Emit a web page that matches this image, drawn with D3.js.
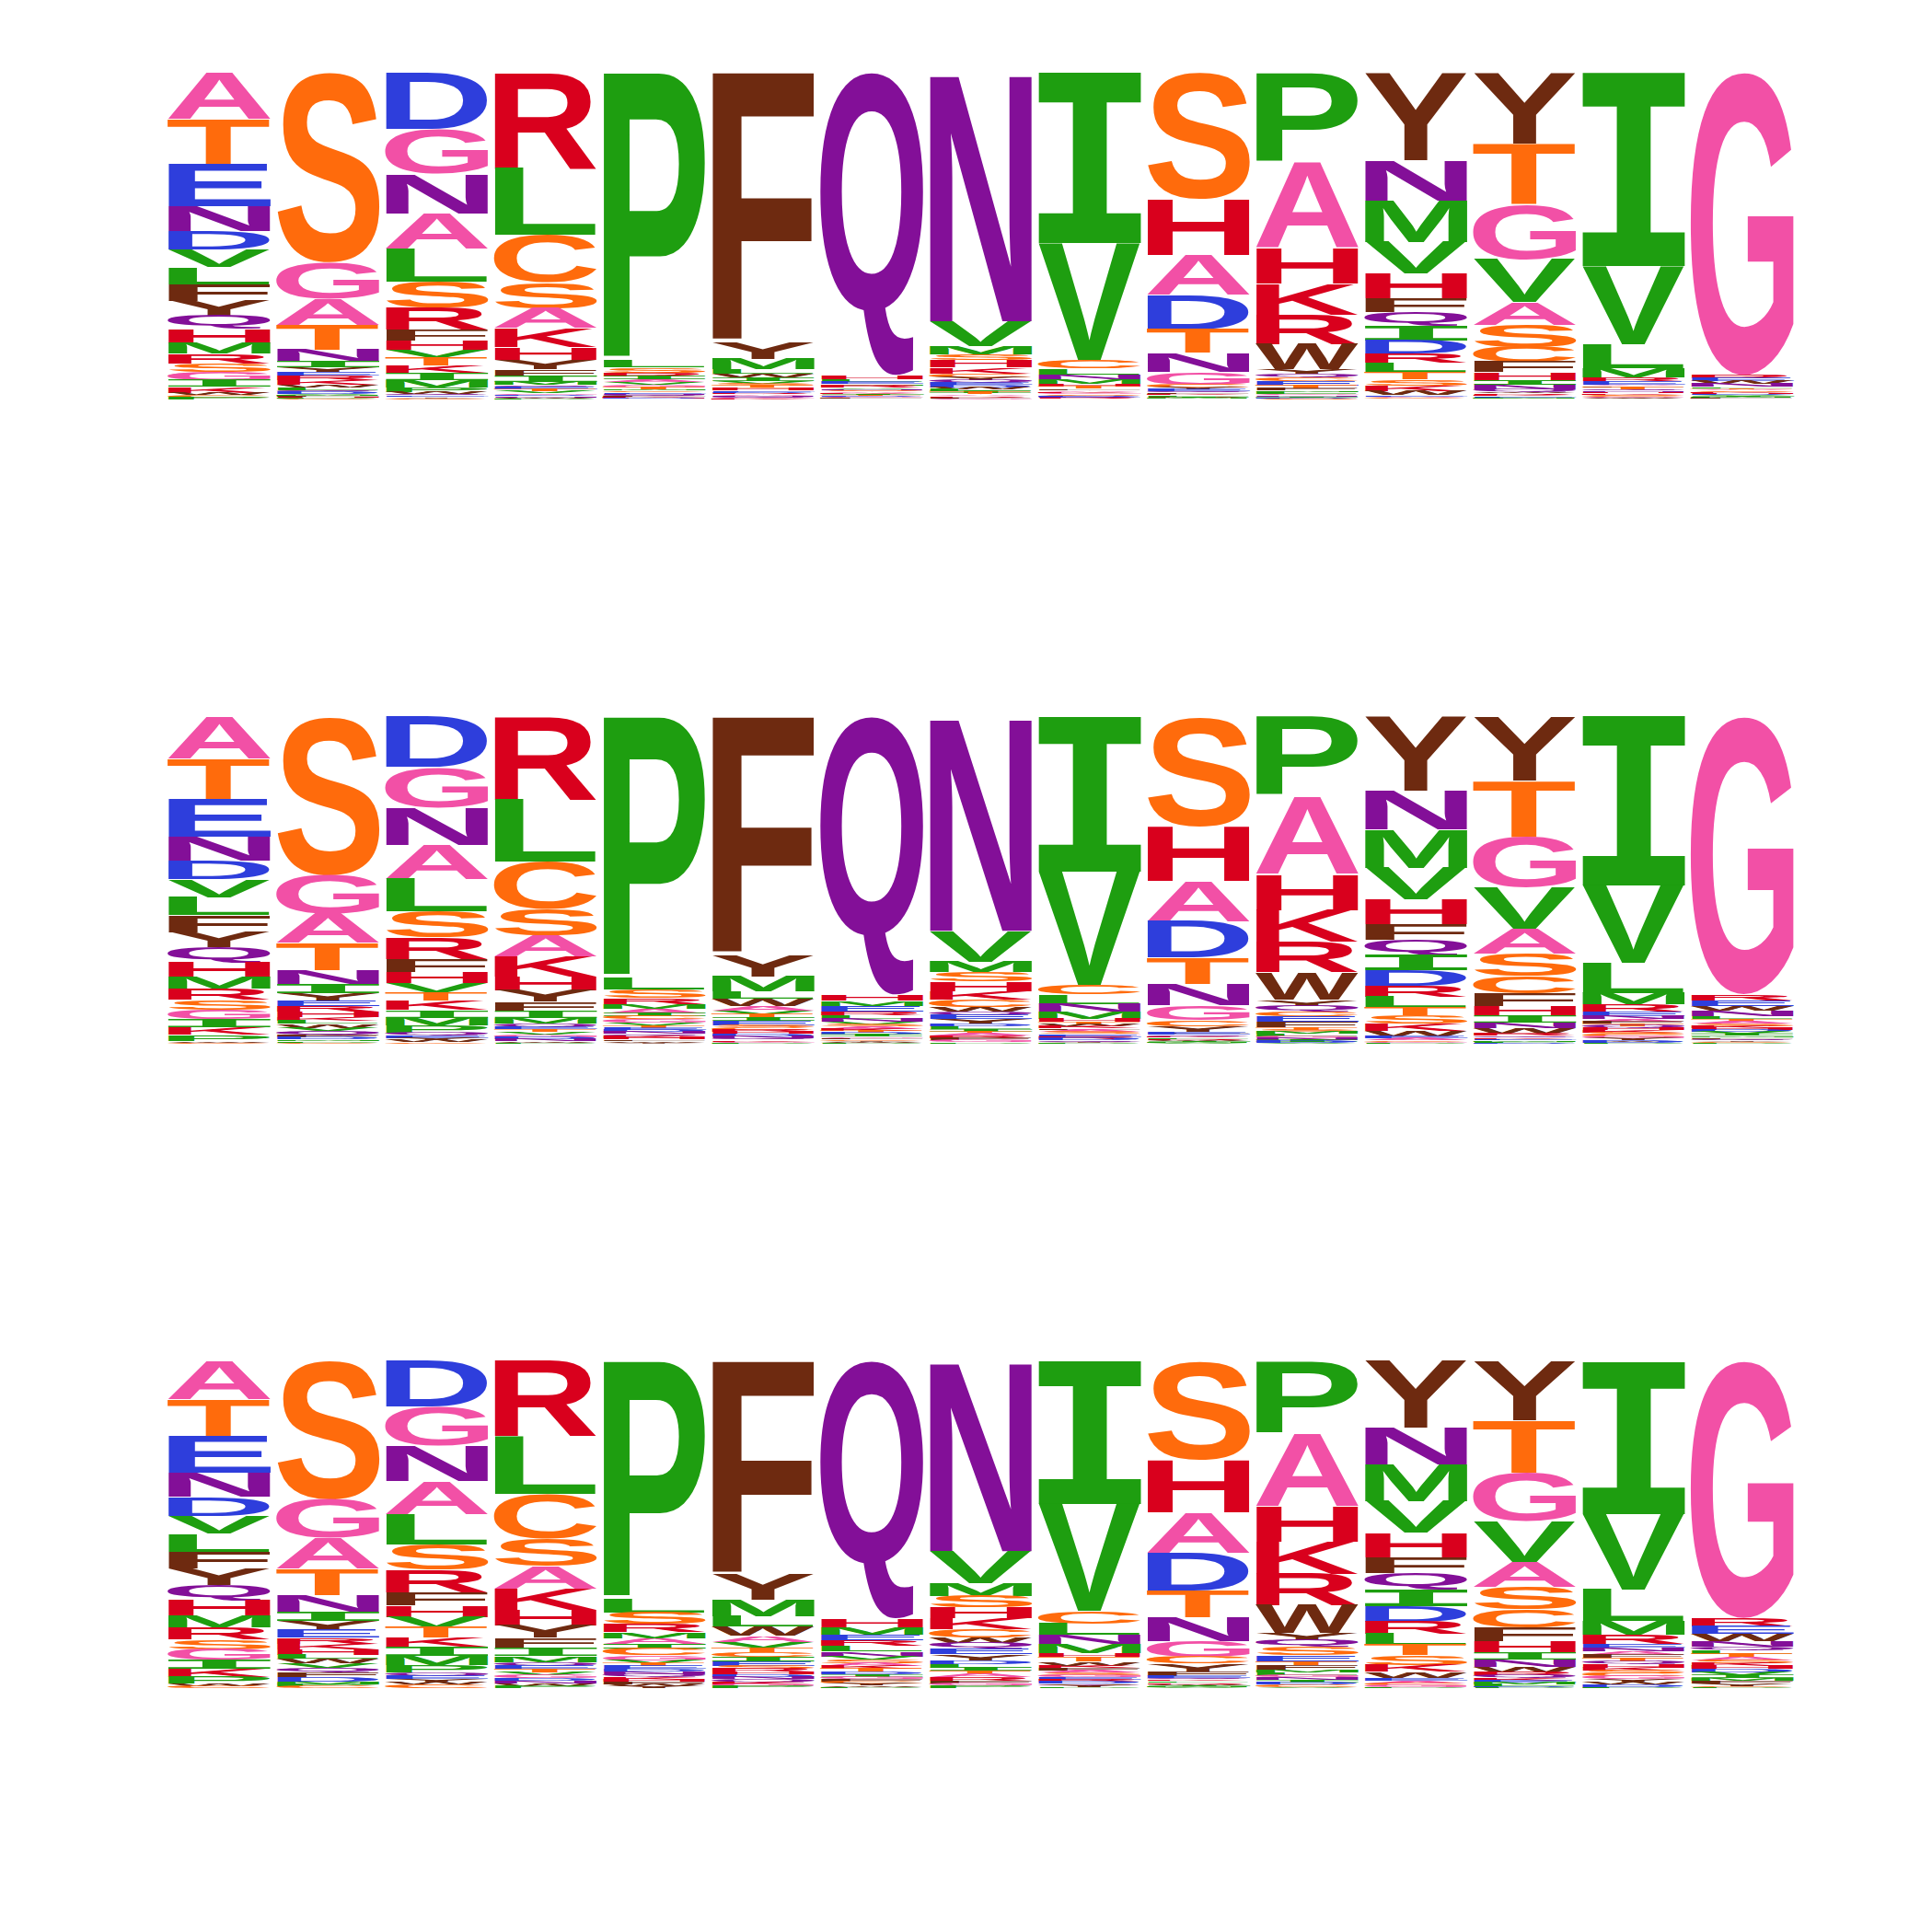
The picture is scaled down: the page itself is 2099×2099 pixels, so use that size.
<!DOCTYPE html>
<html><head><meta charset="utf-8">
<script src="https://cdn.jsdelivr.net/npm/d3@7"></script>
<style>body{margin:0;background:#fff}</style>
</head><body><svg id="chart" width="2099" height="2099"></svg>
<script>
const positions = d3.range(1, 16);

// Each column: letters from top to bottom, with probability (%) of each.
const panel1Letters = ["ATENDVLFYQHMRSGIKWCP","SGATNIYERKWLQDVMFHPC","DGNALSRFHVTKIMPWQEYC","RLCSAKHYFIMQETVGDNWP","PLSRIAVGTMCENQFKHDWY","FYMLWIVSTCHEDRANQGKP","QHLEMRVNSAKITDGFCYWP","NVMSHKCYQEDWLITARFGP","IVCLNMHTFAKGSDEQRWYP","SHADTNGCYEQFKLRIMVWP","PAHKRWYQCETFMLGNIDSV","YNMVHFQIDRLTSKWEACGP","YTGVASCFHINQWRKEMLDP","IVLMREAFTQNHKSCGYWDP","GREWNLTASKHDVIMFQCYP"];
const panel1Values = [
 [14.2,13.9,12.8,7.6,5.6,5.4,5.2,5.1,4.5,4.2,4.2,3.2,3.0,2.6,2.5,2.1,1.9,0.7,0.7,0.6],
 [57.7,11.1,8.0,7.5,3.5,1.9,1.4,1.1,1.4,1.4,0.8,0.8,0.6,0.5,0.4,0.3,0.3,0.3,0.3,0.2],
 [17.2,13.6,12.2,10.8,10.1,8.0,6.8,3.3,2.8,2.3,2.5,2.3,2.1,2.3,1.5,0.5,0.5,0.4,0.4,0.4],
 [29.4,20.5,14.7,8.0,6.1,5.9,3.8,3.0,1.9,1.9,1.1,0.6,0.6,0.6,0.6,0.5,0.4,0.5,0.3,0.3],
 [88.5,2.3,1.6,1.2,1.0,0.8,0.8,0.7,0.6,0.5,0.5,0.4,0.4,0.3,0.3,0.2,0.2,0.2,0.1,0.1],
 [82.9,5.2,3.1,1.4,1.2,1.0,0.8,0.6,0.5,0.5,0.5,0.4,0.4,0.4,0.4,0.4,0.3,0.2,0.2,0.1],
 [93.0,1.0,0.8,0.7,0.5,0.5,0.5,0.4,0.4,0.4,0.3,0.3,0.3,0.3,0.2,0.2,0.1,0.1,0.1,0.1],
 [76.3,7.7,2.4,1.9,2.1,1.9,1.1,0.9,0.8,0.8,0.6,0.6,0.6,0.5,0.5,0.5,0.4,0.4,0.2,0.1],
 [52.7,36.1,2.4,1.9,1.6,1.4,0.8,0.6,0.5,0.5,0.4,0.4,0.4,0.3,0.2,0.2,0.2,0.1,0.1,0.1],
 [39.0,17.2,12.4,10.6,7.3,6.0,3.8,0.9,0.7,0.5,0.4,0.4,0.4,0.4,0.2,0.2,0.2,0.1,0.1,0.1],
 [27.3,26.5,11.1,9.4,9.1,7.8,1.3,1.1,1.1,1.5,0.9,0.6,0.5,0.5,0.4,0.4,0.4,0.2,0.2,0.1],
 [26.8,12.3,12.7,9.6,7.7,4.3,4.4,4.2,4.2,2.8,2.8,2.2,1.9,1.7,1.3,0.4,0.4,0.3,0.1,0.1],
 [21.7,18.8,16.8,13.2,6.9,6.9,4.7,3.1,2.3,1.5,1.3,0.7,0.5,0.5,0.4,0.4,0.3,0.2,0.1,0.1],
 [59.2,23.9,7.3,3.0,1.2,0.9,0.5,0.5,0.5,0.4,0.4,0.4,0.4,0.3,0.3,0.3,0.2,0.2,0.1,0.1],
 [92.8,0.9,0.9,0.9,0.9,0.4,0.4,0.4,0.4,0.3,0.3,0.3,0.3,0.3,0.2,0.2,0.1,0.1,0.1,0.1]
];

const panel2Letters = ["ATENDVLFYQHMRSGIKPWC","SGATNIYERHKLWVQFDMPC","DGNALSRFHVTKIMPQEYWC","RLCSAKHYFIMQETVGDNWP","PLSRMAICGVTEDNQKHFWY","FYMLWAVTIESCRHDNQKGP","QHMERLNVSAKTDIGFCYWP","NVMSHKCWQEYDLITARFGP","IVCLNMHTWKFASGERDQYP","SHADTNGCYFEQKLRWIMVP","PAHKRWYQCEFTSMLGNIDV","YNMVHFQIDRLTSKWEACGP","YTGVASCFHINWRQKEMLDP","IVLMRENAFTQHKSCGYWDP","GREWNLTASKHDVIMFQYCP"];
const panel2Values = [
 [12.8,12.4,11.5,7.4,5.7,5.4,5.6,5.2,4.7,4.5,4.6,3.6,3.3,3.0,2.8,2.6,2.3,1.9,0.5,0.4],
 [48.2,11.7,8.9,8.3,4.2,2.7,2.2,1.9,1.6,1.7,1.1,0.9,1.2,1.1,1.2,0.6,0.6,0.5,0.5,0.4],
 [15.3,12.4,11.4,10.5,9.9,8.0,6.6,3.8,3.3,3.0,2.6,2.8,2.3,2.5,2.2,0.8,0.8,0.6,0.6,0.5],
 [25.4,19.0,14.6,8.0,6.4,6.3,4.2,3.6,3.0,2.1,1.7,0.9,0.8,0.8,0.8,0.7,0.6,0.6,0.5,0.4],
 [79.6,3.5,2.6,1.9,1.4,1.4,0.9,0.9,1.1,0.8,0.8,0.7,0.6,0.6,0.6,0.6,0.5,0.5,0.4,0.4],
 [73.1,6.6,4.7,2.3,2.3,1.4,1.1,0.9,0.9,1.4,0.8,0.7,0.7,0.6,0.6,0.6,0.6,0.5,0.4,0.3],
 [85.7,1.7,1.6,1.7,1.1,1.1,1.0,0.7,0.7,0.7,0.6,0.6,0.6,0.5,0.5,0.5,0.4,0.4,0.3,0.2],
 [65.5,9.4,3.1,3.0,3.0,2.6,2.3,1.4,0.9,1.4,1.4,0.8,0.8,0.7,0.7,0.7,0.7,0.6,0.6,0.5],
 [47.2,34.7,2.8,3.0,2.4,2.1,1.0,0.8,0.6,0.6,0.5,0.6,0.6,0.5,0.5,0.5,0.5,0.4,0.3,0.3],
 [33.6,16.9,12.4,11.1,8.2,6.6,4.5,1.9,1.7,0.5,0.5,0.4,0.4,0.4,0.4,0.3,0.3,0.2,0.2,0.1],
 [24.2,23.9,11.1,9.8,9.4,8.3,1.9,1.7,1.6,1.6,1.7,0.8,0.7,0.6,0.6,0.6,0.6,0.5,0.5,0.2],
 [22.6,11.9,11.7,9.6,7.8,4.7,4.7,4.7,4.7,3.3,3.3,2.5,2.6,2.1,1.7,0.6,0.6,0.5,0.4,0.2],
 [19.5,17.2,15.7,12.7,7.7,6.9,5.2,3.9,2.8,2.2,1.9,1.6,0.6,0.6,0.5,0.4,0.4,0.3,0.2,0.1],
 [51.7,23.7,9.2,3.5,2.2,1.3,0.9,0.8,0.7,0.7,0.7,0.7,0.6,0.6,0.6,0.6,0.5,0.5,0.5,0.2],
 [85.3,1.9,1.9,1.4,1.7,0.8,0.7,0.7,0.7,0.6,0.6,0.6,0.6,0.6,0.5,0.5,0.5,0.5,0.3,0.2]
];

const panel3Letters = ["ATENDVLFYQHMRSGIKPWC","SGATNIYERKHLWVQFDMPC","DGNALSRFHVTKIMPQEYWC","RLCSAKHYFIMQETVGDNWP","PLSRMAICGVTEDNQKHFWY","FYMLWAVTCIESRHDNQKGP","QHMERLNVSAKTDIGFCYWP","NVMSHKCWQEYDLITARFGP","IVCLNMHTWKFASGERDQYP","SHADTNGCYFEQKLRWIMVP","PAHKRWYQSETFMLGNIDCV","YNMVHFQIDRLTSKWEACGP","YTGVASCFHINWRQKEMLDP","IVLMRENAFTQHKSCGYWDP","GREWNQLTASKHDVIMFYCP"];
const panel3Values = [
 [11.7,11.5,11.0,7.3,5.9,5.5,5.4,5.2,5.2,4.5,4.7,3.8,3.5,3.1,3.2,2.8,2.4,2.1,0.7,0.7],
 [42.3,11.7,9.6,8.2,5.0,2.8,2.8,2.3,1.9,1.7,1.6,1.4,1.4,1.4,1.4,1.4,1.4,0.7,0.6,0.6],
 [13.9,11.9,10.9,10.0,9.4,7.8,7.0,4.0,3.4,3.1,3.1,3.0,2.8,2.8,2.3,1.0,1.0,0.8,0.8,1.1],
 [23.0,17.8,13.7,8.5,6.8,6.6,4.7,3.8,3.0,2.6,1.9,1.1,1.0,1.0,1.0,0.9,0.8,0.8,0.7,0.7],
 [72.1,4.2,3.6,2.3,1.9,1.7,1.4,2.2,1.4,0.9,0.9,0.9,0.8,0.8,0.8,0.8,0.7,0.7,0.6,0.6],
 [65.5,7.8,5.1,3.1,2.8,1.9,1.6,1.5,1.3,1.5,1.3,0.9,0.9,0.8,0.8,0.8,0.8,0.7,0.6,0.6],
 [79.2,2.6,2.1,1.9,1.7,1.6,1.6,1.0,1.0,0.9,0.9,0.9,0.8,0.8,0.7,0.7,0.6,0.6,0.5,0.3],
 [58.3,9.8,4.0,3.5,3.4,3.2,2.6,1.7,1.6,1.9,1.9,1.1,1.1,1.0,1.0,1.0,1.0,0.8,0.8,0.7],
 [43.7,32.7,3.8,3.6,2.8,2.8,1.1,1.4,1.2,0.8,0.7,0.7,0.7,0.7,0.7,0.7,0.6,0.6,0.5,0.2],
 [30.5,16.2,12.5,11.5,8.3,7.2,5.0,2.1,2.3,1.4,0.6,0.5,0.5,0.5,0.5,0.4,0.3,0.2,0.2,0.1],
 [22.1,22.3,11.1,9.8,9.7,8.5,2.2,2.1,2.6,1.9,1.1,1.4,0.8,0.8,0.8,0.8,0.7,0.7,0.8,0.3],
 [20.5,11.3,11.3,9.7,7.5,4.9,5.2,5.0,4.7,3.8,3.5,3.1,3.0,2.1,1.9,0.8,0.8,0.6,0.6,0.3],
 [18.1,16.2,14.8,12.7,7.5,7.0,5.6,4.2,3.3,2.3,2.2,1.6,0.9,0.9,0.8,0.7,0.6,0.5,0.3,0.2],
 [46.8,23.2,9.7,4.2,2.8,1.1,1.2,1.0,1.0,1.0,1.0,1.0,0.9,0.9,0.9,0.9,0.8,0.8,0.8,0.3],
 [78.7,2.6,2.3,2.1,1.9,1.1,1.0,1.0,1.0,0.9,0.9,0.9,0.9,0.9,0.9,0.8,0.8,0.8,0.5,0.2]
];

const letterColors = {
  A:"#f250a6", G:"#f250a6",
  S:"#ff6b0c", T:"#ff6b0c", C:"#ff6b0c",
  D:"#2e3edc", E:"#2e3edc",
  N:"#830f98", Q:"#830f98",
  R:"#d9001d", K:"#d9001d", H:"#d9001d",
  P:"#1e9e10", I:"#1e9e10", V:"#1e9e10", L:"#1e9e10", M:"#1e9e10",
  F:"#6e2a10", Y:"#6e2a10", W:"#6e2a10"
};

const panels = [
  {letters: panel1Letters, values: panel1Values, top: 79},
  {letters: panel2Letters, values: panel2Values, top: 779},
  {letters: panel3Letters, values: panel3Values, top: 1479}
];
const panelHeight = 355;

// fonts: sans bold for all letters, a slab-style "I" from the mono family
const SANS = '"Liberation Sans", Arial, sans-serif';
const SLAB_I = '"DejaVu Sans Mono", monospace';
const fontFor = ch => ch === "I" ? SLAB_I : SANS;

// glyph ink metrics
const ctx = document.createElement("canvas").getContext("2d");
const metrics = {};
for (const ch of "ACDEFGHIKLMNPQRSTVWY") {
  ctx.font = 'bold 100px ' + fontFor(ch);
  const m = ctx.measureText(ch);
  metrics[ch] = {l: m.actualBoundingBoxLeft, r: m.actualBoundingBoxRight,
                 a: m.actualBoundingBoxAscent, d: m.actualBoundingBoxDescent};
}

const svg = d3.select("#chart");
const x = d3.scaleBand().domain(positions).range([179, 1952]).paddingInner(0.05).paddingOuter(0.025);

panels.forEach(panel => {
  const y = d3.scaleLinear().domain([0, 1]).range([panel.top + panelHeight, panel.top]);
  const g = svg.append("g");
  positions.forEach((pos, ci) => {
    const lets = panel.letters[ci].split("");
    const vals = panel.values[ci];
    const total = d3.sum(vals);
    let cum = 1;
    const items = lets.map((ch, i) => {
      const frac = vals[i] / total;
      const item = {ch, yTop: y(cum), yBot: y(cum - frac)};
      cum -= frac;
      return item;
    });
    const x0 = x(pos), w = x.bandwidth();
    g.selectAll(null).data(items).enter().append("text")
      .attr("font-family", d => fontFor(d.ch))
      .attr("font-weight", "bold")
      .attr("font-size", 100)
      .attr("fill", d => letterColors[d.ch])
      .attr("transform", d => {
        const m = metrics[d.ch];
        const h = d.yBot - d.yTop;
        const sx = w / (m.l + m.r), sy = h / (m.a + m.d);
        return `translate(${x0 + sx * m.l},${d.yTop + sy * m.a}) scale(${sx},${sy})`;
      })
      .text(d => d.ch);
  });
});
</script>
</body></html>
